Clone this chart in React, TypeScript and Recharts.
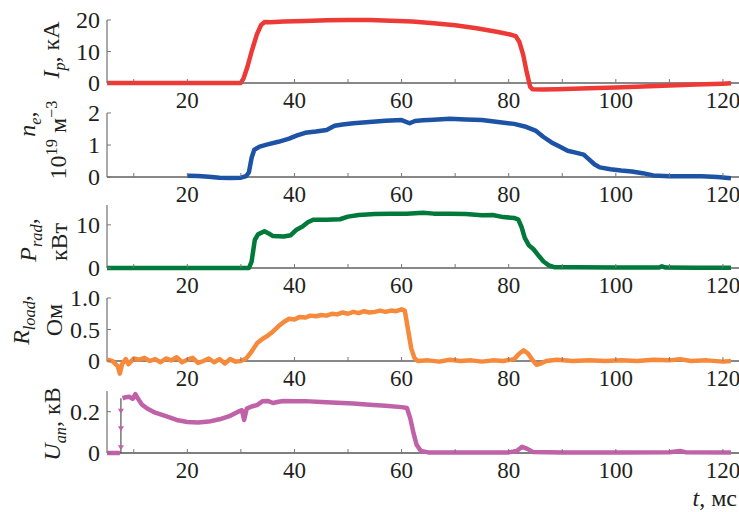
import { ReactElement, ReactNode } from 'react'
import { Line, LineChart, ReferenceLine, XAxis, YAxis } from 'recharts'

// time axis, ms
const timeTicks = [10, 20, 30, 40, 50, 60, 70, 80, 90, 100, 110, 120]

// plasma current, kA
const ipPoints = [
  [5, 0], [10, 0], [20, 0], [30, 0], [30.5, 1.5], [31.2, 5], [32, 10], [33, 15.5],
  [33.8, 18.5], [34.5, 19.4], [35.5, 19.3], [38, 19.5], [42, 19.7], [46, 19.9],
  [50, 20.0], [54, 20.0], [58, 19.8], [62, 19.5], [66, 19.0], [70, 18.3], [74, 17.4],
  [78, 16.2], [80.5, 15.3], [81.3, 14.9], [82, 13], [82.7, 9], [83.3, 4], [84, -1.2],
  [84.5, -2.0], [86, -2.1], [89, -2.0], [95, -1.7], [100, -1.4], [105, -1.1],
  [110, -0.8], [115, -0.5], [120, -0.2], [121.5, -0.1],
]

// electron density, 1e19 m^-3
const nePoints = [
  [20, 0.04], [22, 0.03], [24, 0.01], [26, -0.02], [28, -0.03], [30, -0.02], [31, 0.03],
  [31.5, 0.15], [32, 0.6], [32.5, 0.85], [33.5, 0.95], [35, 1.02], [37, 1.1], [39, 1.2],
  [40.5, 1.3], [42, 1.38], [44, 1.42], [46, 1.47], [47.5, 1.6], [49, 1.64], [51, 1.68],
  [54, 1.72], [57, 1.76], [60, 1.78], [61.5, 1.68], [62.5, 1.75], [64, 1.77], [66, 1.79],
  [69, 1.82], [72, 1.8], [75, 1.78], [78, 1.72], [81, 1.66], [83, 1.58], [85, 1.45],
  [86.5, 1.25], [88, 1.08], [89.5, 0.95], [91, 0.82], [92.5, 0.76], [94, 0.7], [95, 0.55],
  [96, 0.4], [97, 0.3], [99, 0.24], [101, 0.2], [103, 0.17], [105, 0.12], [107, 0.05],
  [110, 0.02], [113, 0.02], [116, 0.02], [119, 0.0], [121.5, -0.04],
]

// radiated power, kW
const pradPoints = [
  [5, 0], [15, 0], [25, 0], [31.5, 0], [32, 1.5], [32.6, 6.5], [33.2, 7.8], [34.4, 8.5],
  [35.2, 8.0], [36, 7.4], [38, 7.3], [39.3, 7.6], [40.3, 8.8], [41.5, 9.6], [42.5, 10.6],
  [43.5, 11.2], [46, 11.2], [48.5, 11.3], [50, 11.9], [52, 12.3], [55, 12.5], [58, 12.6],
  [61, 12.6], [64, 12.8], [66, 12.6], [69, 12.6], [72, 12.5], [75, 12.2], [77, 12.3],
  [79, 11.8], [81, 11.6], [81.8, 11.2], [82.4, 9.5], [83, 7], [83.8, 5.2], [84.6, 4.4],
  [85.5, 3.0], [86.5, 1.5], [87.5, 0.6], [88.5, 0.2], [92, 0.15], [100, 0.12], [108, 0.1],
  [108.6, 0.4], [109.3, 0.1], [115, 0.08], [121.5, 0.05],
]

// load resistance, Ohm
const rloadPoints = [
  [5, 0.02], [6, 0.0], [7, -0.08], [7.4, -0.2], [7.8, -0.05], [8.5, 0.03], [9, -0.05],
  [10, 0.04], [11, 0.02], [12, 0.05], [13, 0.0], [14, 0.03], [15, -0.02], [16, 0.04],
  [17, 0.01], [18, 0.06], [19, -0.02], [20, 0.02], [21, 0.05], [22, -0.03], [23, 0.0],
  [24, 0.04], [25, -0.02], [26, 0.03], [27, -0.04], [28, 0.03], [29, -0.01], [30, 0.0],
  [31, 0.04], [32, 0.15], [33, 0.28], [34, 0.35], [35, 0.4], [36, 0.47], [37, 0.55],
  [38, 0.62], [39, 0.67], [40, 0.66], [41, 0.7], [42, 0.69], [43, 0.72], [44, 0.71],
  [45, 0.73], [46, 0.72], [47, 0.75], [48, 0.74], [49, 0.77], [50, 0.75], [51, 0.78],
  [52, 0.76], [53, 0.79], [54, 0.77], [55, 0.78], [56, 0.8], [57, 0.78], [58, 0.8],
  [59, 0.79], [60, 0.82], [60.6, 0.8], [61.2, 0.5], [61.8, 0.2], [62.4, 0.05], [63, 0.0],
  [65, 0.01], [67, -0.01], [69, 0.02], [71, 0.0], [73, 0.01], [75, -0.01], [77, 0.01],
  [79, 0.0], [81, 0.03], [82, 0.12], [82.8, 0.17], [83.6, 0.12], [84.4, 0.02],
  [85.2, -0.06], [86, -0.04], [87, 0.0], [89, 0.02], [92, 0.0], [95, 0.01], [98, 0.0],
  [101, 0.01], [104, 0.0], [107, 0.02], [110, 0.01], [112, 0.03], [114, 0.0],
  [117, 0.01], [120, -0.01], [121.5, 0.0],
]

// anode voltage, kV
const uanPoints = [
  [5, 0], [7.4, 0], [7.6, null], [7.9, 0.265], [8.5, 0.27], [9.2, 0.272], [9.8, 0.262],
  [10.3, 0.285], [10.8, 0.262], [11.5, 0.235], [12.5, 0.215], [14, 0.195], [16, 0.178],
  [18, 0.16], [20, 0.15], [22, 0.148], [24, 0.152], [26, 0.163], [28, 0.18], [29.5, 0.2],
  [30.2, 0.207], [30.6, 0.16], [31.1, 0.215], [32, 0.225], [33, 0.232], [34, 0.25],
  [35, 0.252], [36, 0.242], [37, 0.248], [38, 0.252], [40, 0.25], [42, 0.251],
  [45, 0.247], [48, 0.243], [51, 0.239], [54, 0.234], [57, 0.229], [60, 0.222],
  [61, 0.218], [61.6, 0.17], [62.2, 0.1], [62.8, 0.04], [63.6, 0.01], [65, 0.003],
  [70, 0.003], [75, 0.002], [80, 0.003], [81.5, 0.01], [82.5, 0.03], [83.5, 0.02],
  [84.5, 0.005], [90, 0.003], [100, 0.003], [110, 0.004], [112, 0.01], [113, 0.004],
  [121.5, 0.003],
]
const uanJumpPoints = [[7.6, 0], [7.6, 0.023], [7.6, 0.115], [7.6, 0.2], [7.6, 0.265]]

const FONT = '"Liberation Serif", "Times New Roman", serif'
const INK = '#231f20'
const WIDTH = 739
const PLOT_LEFT = 107
const MARGIN_TOP = 20
const AXIS_HEIGHT = 34

type Panel = {
  name: string
  points: (number | null)[][]
  color: string
  top: number
  zero: number
  max: number
  pad: number
  ticks: number[]
  tickLabels: string[]
}

const panels: Panel[] = [
  { name: 'ip', points: ipPoints, color: '#ee3a36', top: 20, zero: 83, max: 20, pad: 10, ticks: [0, 10, 20], tickLabels: ['0', '10', '20'] },
  { name: 'ne', points: nePoints, color: '#1c53a5', top: 113, zero: 177, max: 2, pad: 10, ticks: [0, 1, 2], tickLabels: ['0', '1', '2'] },
  { name: 'prad', points: pradPoints, color: '#00793a', top: 205, zero: 268, max: 14.6, pad: 10, ticks: [0, 10], tickLabels: ['0', '10'] },
  { name: 'rload', points: rloadPoints, color: '#f7893a', top: 298, zero: 361, max: 1, pad: 16, ticks: [0, 0.5, 1], tickLabels: ['0', '0.5', '1.0'] },
  { name: 'uan', points: uanPoints, color: '#c062a8', top: 391, zero: 453, max: 0.3, pad: 8, ticks: [0, 0.2], tickLabels: ['0', '0.2'] },
]

const toRows = (points: (number | null)[][]) => points.map(([t, v]) => ({ t, v }))

function PanelChart({ panel }: { panel: Panel }): ReactElement {
  const h = panel.zero - panel.top
  const lo = -(panel.pad / h) * panel.max
  const zeroY = MARGIN_TOP + h
  const height = MARGIN_TOP + h + panel.pad + AXIS_HEIGHT
  const isLast = panel.name === 'uan'

  const xTick = (props: any) => {
    const { x, payload } = props
    return (
      <g>
        <line x1={x} x2={x} y1={zeroY} y2={zeroY - 4} stroke="#777" />
        {payload.value % 20 === 0 && (
          <text x={x} y={zeroY + 25} textAnchor="middle" fontFamily={FONT} fontSize={23} fill={INK}>
            {payload.value}
          </text>
        )}
      </g>
    )
  }

  const yTick = (props: any) => {
    const { y, index } = props
    return (
      <g>
        <line x1={PLOT_LEFT} x2={PLOT_LEFT + 4} y1={y} y2={y} stroke="#777" />
        <text x={PLOT_LEFT - 7} y={y} dy="0.34em" textAnchor="end" fontFamily={FONT} fontSize={24} fill={INK}>
          {panel.tickLabels[index]}
        </text>
      </g>
    )
  }

  const triangle = (props: any) => {
    const { cx, cy, index } = props
    if (index === 0 || index === uanJumpPoints.length - 1) return <g key={`tri-${index}`} />
    return (
      <path
        key={`tri-${index}`}
        d={`M${cx - 3},${cy - 3}L${cx + 3},${cy - 3}L${cx},${cy + 2}Z`}
        fill={panel.color}
      />
    )
  }

  return (
    <div style={{ position: 'absolute', left: 0, top: panel.top - MARGIN_TOP }}>
      <LineChart width={WIDTH} height={height} margin={{ top: MARGIN_TOP, right: 0, bottom: 0, left: 0 }}>
        <XAxis
          type="number"
          dataKey="t"
          domain={[5, 123]}
          ticks={timeTicks}
          interval={0}
          axisLine={false}
          tickLine={false}
          tick={xTick}
          height={AXIS_HEIGHT}
        />
        <YAxis
          type="number"
          domain={[lo, panel.max]}
          ticks={panel.ticks}
          interval={0}
          axisLine={false}
          tickLine={false}
          tick={yTick}
          width={PLOT_LEFT}
        />
        <ReferenceLine y={0} stroke={isLast ? '#555' : '#111'} strokeWidth={isLast ? 1.5 : 1} />
        <ReferenceLine segment={[{ x: 5, y: 0 }, { x: 5, y: panel.max }]} stroke="#555" />
        {isLast && (
          <Line
            data={toRows(uanJumpPoints)}
            dataKey="v"
            type="linear"
            stroke="#333"
            strokeWidth={1}
            dot={triangle}
            isAnimationActive={false}
          />
        )}
        <Line
          data={toRows(panel.points)}
          dataKey="v"
          type="linear"
          stroke={panel.color}
          strokeWidth={4.5}
          strokeLinejoin="round"
          dot={false}
          isAnimationActive={false}
        />
      </LineChart>
    </div>
  )
}

function Side({ x, y, children }: { x: number; y: number; children: ReactNode }): ReactElement {
  return (
    <div
      style={{
        position: 'absolute',
        left: x,
        top: y,
        transform: 'translate(-50%, -50%) rotate(-90deg)',
        whiteSpace: 'nowrap',
        fontFamily: FONT,
        fontSize: 24,
        lineHeight: 1,
        color: INK,
      }}
    >
      {children}
    </div>
  )
}

const sub = { fontSize: '0.68em', fontStyle: 'italic' as const }
const sup = { fontSize: '0.68em' }

export default function App(): ReactElement {
  return (
    <div style={{ position: 'absolute', left: 0, top: 0, width: WIDTH, height: 512, background: '#fff', overflow: 'hidden' }}>
      {panels.map((panel) => (
        <PanelChart key={panel.name} panel={panel} />
      ))}
      <Side x={54} y={50}>
        <i>I</i><sub style={sub}>p</sub>, кА
      </Side>
      <Side x={30} y={124}>
        <i>n</i><sub style={sub}>e</sub>,
      </Side>
      <Side x={57} y={140}>
        10<sup style={sup}>19</sup> м<sup style={sup}>−3</sup>
      </Side>
      <Side x={31} y={240}>
        <i>P</i><sub style={sub}>rad</sub>,
      </Side>
      <Side x={59} y={242}>
        кВт
      </Side>
      <Side x={24} y={320}>
        <i>R</i><sub style={sub}>load</sub>,
      </Side>
      <Side x={54} y={320}>
        Ом
      </Side>
      <Side x={55} y={424}>
        <i>U</i><sub style={sub}>an</sub>, кВ
      </Side>
      <div
        style={{
          position: 'absolute',
          left: 600,
          top: 486,
          width: 137,
          textAlign: 'right',
          fontFamily: FONT,
          fontSize: 24,
          lineHeight: 1,
          color: INK,
        }}
      >
        <i>t</i>, мс
      </div>
    </div>
  )
}
